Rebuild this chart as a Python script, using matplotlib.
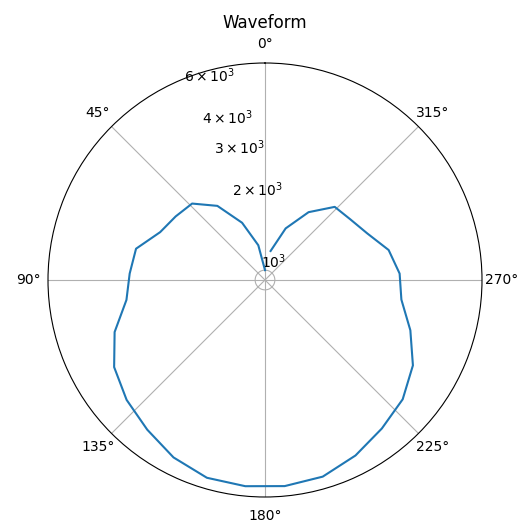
import numpy as np
import matplotlib
matplotlib.use('Agg')
import matplotlib.pyplot as plt


# samples around the full circle, endpoint left open
n_pts = 33
amplitude = [1000, 1256, 1588, 2011, 2351, 2437, 2562, 2994, 3069, 3195,
             3791, 4337, 4695, 5014, 5442, 5767, 5819, 5814, 5706, 5337,
             4948, 4657, 4207, 3615, 3133, 3050, 2851, 2496, 2331, 2257,
             1881, 1504, 1192]
title = 'Waveform'


def plot_wave(theta, r):
    fig = plt.figure(figsize=(5.31, 5.20), dpi=100)
    ax = fig.add_axes([48/531, 23/520, 434/531, 434/520], projection='polar')
    ax.set_theta_zero_location('N')
    ax.set_rscale('log')
    ax.plot(theta, r)
    ax.set_title(title)
    return fig


theta = np.linspace(0, 2*np.pi, n_pts, endpoint=False)
fig = plot_wave(theta, np.array(amplitude))
fig.savefig('out.png', dpi=100)
plt.close(fig)
